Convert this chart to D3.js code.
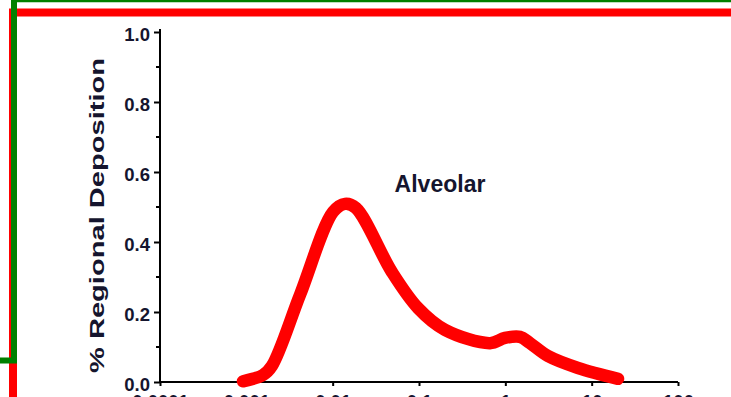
<!DOCTYPE html>
<html>
<head>
<meta charset="utf-8">
<script src="https://cdn.jsdelivr.net/npm/d3@7"></script>
<style>
  html, body { margin: 0; padding: 0; background: #fff; overflow: hidden; }
  svg { display: block; }
  text { font-family: "Liberation Sans", Arial, sans-serif; font-weight: bold; fill: #15152e; }
</style>
</head>
<body>
<script>
// ---- data ----
const particleSize = [0.000914, 0.00156, 0.00198, 0.0042, 0.0101, 0.0139, 0.0186, 0.0486, 0.0975, 0.200, 0.665, 0.99, 1.48, 1.93, 3.12, 6.95, 20.2];
const alveolarDeposition = [0.002, 0.02, 0.046, 0.25, 0.486, 0.509, 0.497, 0.314, 0.211, 0.149, 0.111, 0.126, 0.129, 0.111, 0.074, 0.040, 0.009];
const xTickValues = [0.0001, 0.001, 0.01, 0.1, 1, 10, 100];
const xTickLabels = ["0.0001", "0.001", "0.01", "0.1", "1", "10", "100"];
const yTickValues = [0, 0.2, 0.4, 0.6, 0.8, 1.0];
const yMinorTicks = [0.1, 0.3, 0.5, 0.7, 0.9];
const yLabel = "% Regional Deposition";
const seriesLabel = "Alveolar";

const W = 731, H = 397;
const svg = d3.select("body").append("svg").attr("width", W).attr("height", H);

// frame decorations
svg.append("rect").attr("x", 13).attr("y", 12.5).attr("width", 800).attr("height", 500)
  .attr("fill", "none").attr("stroke", "#ff0000").attr("stroke-width", 8);
svg.append("path").attr("d", "M14,0 V360.5 H0")
  .attr("fill", "none").attr("stroke", "#008000").attr("stroke-width", 6);
svg.append("path").attr("d", "M14,1 H731")
  .attr("fill", "none").attr("stroke", "#008000").attr("stroke-width", 2.5);

// scales
const x = d3.scaleLog().domain([0.0001, 100]).range([160, 678]);
const y = d3.scaleLinear().domain([0, 1]).range([382, 32]);

// y axis
const yAxis = d3.axisLeft(y).tickValues(yTickValues).tickFormat(d3.format(".1f")).tickSize(6).tickPadding(4);
const gy = svg.append("g").attr("transform", "translate(160,0)").call(yAxis);
gy.select(".domain").attr("d", "M0,29V382").attr("stroke", "#000").attr("stroke-width", 2);
gy.selectAll(".tick line").attr("stroke", "#000").attr("stroke-width", 2);
gy.selectAll(".tick text").attr("font-size", 18.5).attr("dy", "0.45em").style("fill", "#15152e");
gy.selectAll(".minor").data(yMinorTicks).enter().append("line")
  .attr("x1", -4).attr("x2", 0).attr("y1", d => y(d)).attr("y2", d => y(d))
  .attr("stroke", "#000").attr("stroke-width", 2);

// x axis
const xAxis = d3.axisBottom(x).tickValues(xTickValues).tickFormat((d, i) => xTickLabels[i]).tickSize(4).tickPadding(9);
const gx = svg.append("g").attr("transform", "translate(0,382)").call(xAxis);
gx.select(".domain").attr("d", "M160,0H678").attr("stroke", "#000").attr("stroke-width", 2);
gx.selectAll(".tick line").attr("stroke", "#000").attr("stroke-width", 2);
gx.selectAll(".tick text").attr("font-size", 18.5).style("fill", "#15152e");

// y label
svg.append("text")
  .attr("transform", "translate(104,215.5) rotate(-90)")
  .attr("text-anchor", "middle")
  .attr("font-size", 21)
  .attr("textLength", 315)
  .attr("lengthAdjust", "spacingAndGlyphs")
  .text(yLabel);

// series label
svg.append("text").attr("x", 440).attr("y", 192).attr("text-anchor", "middle")
  .attr("font-size", 23).text(seriesLabel);

// curve
const pts = particleSize.map((d, i) => [d, alveolarDeposition[i]]);
const line = d3.line().x(d => x(d[0])).y(d => y(d[1])).curve(d3.curveCatmullRom.alpha(0.5));
svg.append("path").datum(pts).attr("d", line)
  .attr("fill", "none").attr("stroke", "#ff0000").attr("stroke-width", 12.5)
  .attr("stroke-linecap", "round").attr("stroke-linejoin", "round");
</script>
</body>
</html>
